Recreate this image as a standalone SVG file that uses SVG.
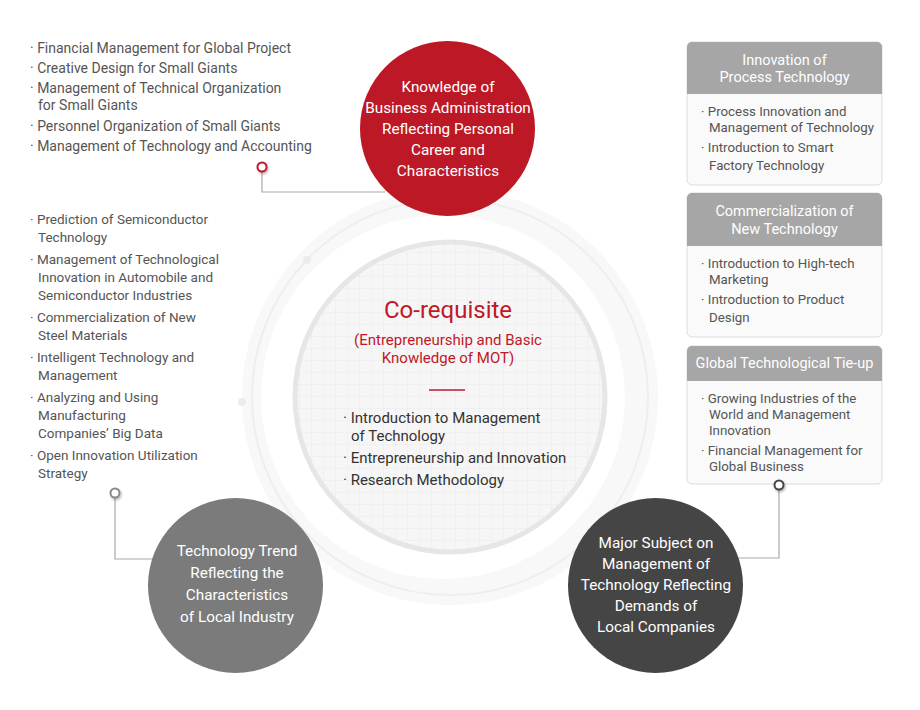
<svg xmlns="http://www.w3.org/2000/svg" width="920" height="710" viewBox="0 0 920 710">
<defs>
<pattern id="grid" width="12" height="12" patternUnits="userSpaceOnUse" x="0" y="1">
<rect width="12" height="12" fill="#f6f6f6"/>
<path d="M12 0V12M0 12H12" stroke="#ebebeb" stroke-width="1" fill="none"/>
</pattern>
<filter id="sh" x="-50%" y="-50%" width="200%" height="200%">
<feDropShadow dx="1" dy="1.5" stdDeviation="1" flood-color="#000" flood-opacity="0.3"/>
</filter>
</defs>
<style>
text{font-family:Roboto,"Noto Sans","Liberation Sans",sans-serif}
.li{font-size:13.5px;fill:#555}
.lt{font-size:14px;fill:#555}
.bx{font-size:13.3px;fill:#555}
.hd{font-size:14.5px;fill:#fff;text-anchor:middle}
.ct{font-size:15.3px;fill:#fff;text-anchor:middle}
.cm{font-size:15px;fill:#333}
.rd{fill:#c01826;text-anchor:middle}
.conn{fill:none;stroke:#aaa;stroke-width:1.2}
.box{fill:#fafafa;stroke:#dcdcdc;stroke-width:1}
.hdr{fill:#a6a6a6}
</style>

<g id="core">
<circle cx="450" cy="397" r="208" fill="#f8f8f8"/>
<circle cx="450" cy="397" r="198" fill="none" stroke="#eeeeee" stroke-width="2"/>
<circle cx="307" cy="260" r="4" fill="#ececec"/>
<circle cx="242" cy="402" r="4" fill="#ececec"/>
<circle cx="443" cy="397" r="182" fill="#ffffff"/>
<circle cx="450" cy="397" r="155" fill="url(#grid)" stroke="#e6e6e6" stroke-width="5"/>
<text class="rd" x="448" y="318" font-size="24">Co-requisite</text>
<text class="rd" x="448" y="345" font-size="15">(Entrepreneurship and Basic</text>
<text class="rd" x="448" y="363" font-size="15">Knowledge of MOT)</text>
<line x1="429" y1="390" x2="465" y2="390" stroke="#c01826" stroke-width="1.5"/>
<text class="cm" x="343" y="423">· Introduction to Management</text>
<text class="cm" x="351" y="441">of Technology</text>
<text class="cm" x="343" y="463">· Entrepreneurship and Innovation</text>
<text class="cm" x="343" y="485">· Research Methodology</text>
</g>

<g id="connectors">
<polyline class="conn" points="262,172 262,192 385,192"/>
<polyline class="conn" points="115,498 115,559 165,559"/>
<polyline class="conn" points="779,490 779,558 735,558"/>
</g>

<g id="business">
<circle cx="447.5" cy="128.5" r="87.5" fill="#bd1825"/>
<text class="ct" x="448" y="92">Knowledge of</text>
<text class="ct" x="448" y="113">Business Administration</text>
<text class="ct" x="448" y="134">Reflecting Personal</text>
<text class="ct" x="448" y="155">Career and</text>
<text class="ct" x="448" y="176">Characteristics</text>
</g>

<g id="trend">
<circle cx="235.5" cy="585.5" r="87.5" fill="#7b7b7b"/>
<text class="ct" x="237" y="556">Technology Trend</text>
<text class="ct" x="237" y="578">Reflecting the</text>
<text class="ct" x="237" y="600">Characteristics</text>
<text class="ct" x="237" y="622">of Local Industry</text>
</g>

<g id="major">
<circle cx="655.5" cy="585.5" r="87.5" fill="#454545"/>
<text class="ct" x="656" y="548">Major Subject on</text>
<text class="ct" x="656" y="569">Management of</text>
<text class="ct" x="656" y="590">Technology Reflecting</text>
<text class="ct" x="656" y="611">Demands of</text>
<text class="ct" x="656" y="632">Local Companies</text>
</g>

<g id="list-business">
<text class="lt" x="30" y="53">· Financial Management for Global Project</text>
<text class="lt" x="30" y="73">· Creative Design for Small Giants</text>
<text class="lt" x="30" y="93">· Management of Technical Organization</text>
<text class="lt" x="38" y="110">for Small Giants</text>
<text class="lt" x="30" y="131">· Personnel Organization of Small Giants</text>
<text class="lt" x="30" y="151">· Management of Technology and Accounting</text>
</g>

<g id="list-trend">
<text class="li" x="30" y="224">· Prediction of Semiconductor</text>
<text class="li" x="38" y="242">Technology</text>
<text class="li" x="30" y="264">· Management of Technological</text>
<text class="li" x="38" y="282">Innovation in Automobile and</text>
<text class="li" x="38" y="300">Semiconductor Industries</text>
<text class="li" x="30" y="322">· Commercialization of New</text>
<text class="li" x="38" y="340">Steel Materials</text>
<text class="li" x="30" y="362">· Intelligent Technology and</text>
<text class="li" x="38" y="380">Management</text>
<text class="li" x="30" y="402">· Analyzing and Using</text>
<text class="li" x="38" y="420">Manufacturing</text>
<text class="li" x="38" y="438">Companies’ Big Data</text>
<text class="li" x="30" y="460">· Open Innovation Utilization</text>
<text class="li" x="38" y="478">Strategy</text>
</g>

<g id="box-process">
<rect class="box" x="687" y="42" width="195" height="143" rx="5"/>
<path class="hdr" d="M687 94V47a5 5 0 0 1 5-5h185a5 5 0 0 1 5 5V94Z"/>
<text class="hd" x="784.5" y="65">Innovation of</text>
<text class="hd" x="784.5" y="82">Process Technology</text>
<text class="bx" x="701" y="116">· Process Innovation and</text>
<text class="bx" x="709" y="132">Management of Technology</text>
<text class="bx" x="701" y="152">· Introduction to Smart</text>
<text class="bx" x="709" y="170">Factory Technology</text>
</g>

<g id="box-commercial">
<rect class="box" x="687" y="193" width="195" height="144" rx="5"/>
<path class="hdr" d="M687 246V198a5 5 0 0 1 5-5h185a5 5 0 0 1 5 5V246Z"/>
<text class="hd" x="784.5" y="216">Commercialization of</text>
<text class="hd" x="784.5" y="234">New Technology</text>
<text class="bx" x="701" y="268">· Introduction to High-tech</text>
<text class="bx" x="709" y="284">Marketing</text>
<text class="bx" x="701" y="304">· Introduction to Product</text>
<text class="bx" x="709" y="322">Design</text>
</g>

<g id="box-global">
<rect class="box" x="687" y="346" width="195" height="138" rx="5"/>
<path class="hdr" d="M687 381V351a5 5 0 0 1 5-5h185a5 5 0 0 1 5 5V381Z"/>
<text class="hd" x="784.5" y="368">Global Technological Tie-up</text>
<text class="bx" x="701" y="403">· Growing Industries of the</text>
<text class="bx" x="709" y="419">World and Management</text>
<text class="bx" x="709" y="435">Innovation</text>
<text class="bx" x="701" y="455">· Financial Management for</text>
<text class="bx" x="709" y="471">Global Business</text>
</g>

<g id="dots">
<circle cx="262" cy="167" r="4.5" fill="#fff" stroke="#c01826" stroke-width="2" filter="url(#sh)"/>
<circle cx="115" cy="493" r="4.5" fill="#fff" stroke="#888" stroke-width="2" filter="url(#sh)"/>
<circle cx="779" cy="485" r="4.5" fill="#fff" stroke="#444" stroke-width="2" filter="url(#sh)"/>
</g>
</svg>
